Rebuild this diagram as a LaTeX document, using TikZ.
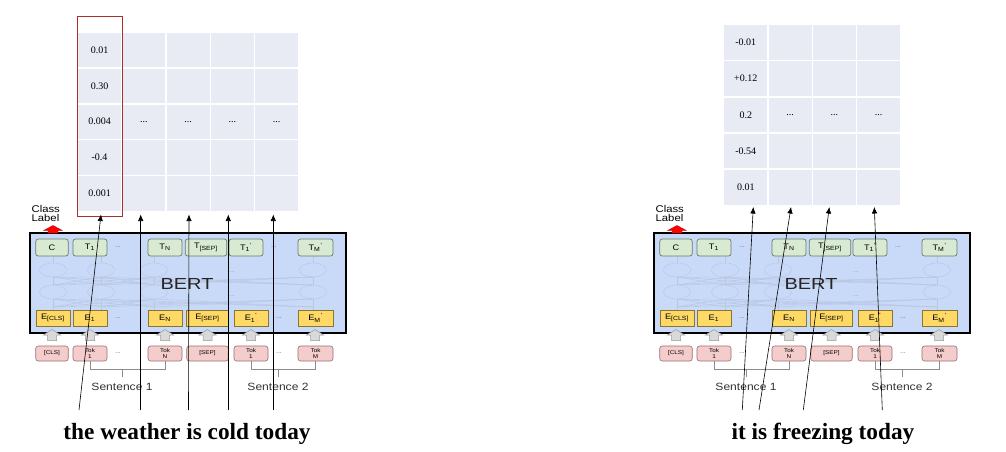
\documentclass[tikz,border=0pt]{standalone}
\usepackage{fontspec}
\usepackage{graphicx}
\usetikzlibrary{arrows.meta}
\newfontfamily\arialf{Liberation Sans}
\newfontfamily\timesf{Liberation Serif}
\definecolor{bertfill}{HTML}{C9DAF8}
\definecolor{tfill}{HTML}{D9EAD3}
\definecolor{tdraw}{HTML}{6B7B66}
\definecolor{efill}{HTML}{FFD966}
\definecolor{edraw}{HTML}{8A7434}
\definecolor{pfill}{HTML}{F4CCCC}
\definecolor{pdraw}{HTML}{9A7070}
\definecolor{garfill}{HTML}{D9D9D9}
\definecolor{gardraw}{HTML}{9A9A9A}
\definecolor{netc}{HTML}{B8C7E2}
\definecolor{cellc}{HTML}{E8EAF4}
\definecolor{redbox}{HTML}{A8322A}
\definecolor{brk}{HTML}{8C8C8C}
\newcommand\sx[1]{\scalebox{1.15}[1]{#1}}
\tikzset{
  tnode/.style={draw=tdraw, fill=tfill, rounded corners=2.5pt, line width=0.7pt, minimum height=17pt, inner sep=0pt, font=\arialf\fontsize{8}{9}\selectfont},
  enode/.style={draw=edraw, fill=efill, line width=0.6pt, minimum height=16pt, inner sep=0pt, font=\arialf\fontsize{8}{9}\selectfont},
  pnode/.style={draw=pdraw, fill=pfill, rounded corners=2.5pt, line width=0.6pt, minimum height=15pt, inner sep=0pt, align=center, font=\arialf\fontsize{5.5}{5.6}\selectfont},
  dotsn/.style={font=\arialf\fontsize{7}{8}\selectfont, text=black!55, inner sep=0pt},
  netl/.style={draw=netc, line width=0.45pt},
  clab/.style={font=\arialf\fontsize{9.8}{10}\selectfont, inner sep=0pt, anchor=base west},
  sent/.style={font=\arialf\fontsize{10.5}{12}\selectfont, text=black!80, inner sep=0pt},
  bertt/.style={font=\arialf\fontsize{16}{16}\selectfont, text=black!85, inner sep=0pt},
  valt/.style={font=\timesf\fontsize{10}{12}\selectfont, inner sep=0pt},
  bigt/.style={font=\timesf\bfseries\fontsize{23.3}{26}\selectfont, inner sep=0pt, anchor=base},
  arr/.style={-{Latex[length=6.5pt,width=5.5pt]}, line width=0.6pt, black},
  brkl/.style={draw=brk, line width=0.6pt},
  garrow/.style={fill=garfill, draw=gardraw, line width=0.5pt}
}
\newcommand\bertblock[2]{%
\begin{scope}[shift={(#2,0)}]
  \draw[fill=bertfill, line width=1.2pt] (30,233) rectangle (346,333);
  % faint inner network
  \foreach \a in {53,101,154,313}{
    \draw[netl] (\a,270) ellipse [x radius=13.5, y radius=7];
    \draw[netl] (\a,292) ellipse [x radius=13.5, y radius=7];
    \draw[netl] (\a,256) -- (\a,263);
    \draw[netl] (\a,299) -- (\a,310);
    \foreach \b in {53,101,154,313}{
      \draw[netl] (\a,277) -- (\b,285);
      \draw[netl] (\a,299) -- (\b,307);
    }
  }
  \node[dotsn, text=netc!80!black] (#1nd1) at (232,272) {...};
  \node[dotsn, text=netc!80!black] (#1nd2) at (232,296) {...};
  \node[bertt] (#1bert) at (187,284) {\scalebox{1.25}[1]{BERT}};
  % output tokens
  \node[tnode, minimum width=32.5pt] (#1c) at (52,247.5) {\sx{C}};
  \node[tnode, minimum width=34pt] (#1t1) at (90,247.5) {\sx{T\textsubscript{1}}};
  \node[dotsn] (#1td1) at (118,247.5) {...};
  \node[tnode, minimum width=34pt] (#1tn) at (165,247.5) {\sx{T\textsubscript{N}}};
  \node[tnode, minimum width=41.5pt] (#1tsep) at (206,247.5) {\sx{T\textsubscript{[SEP]}}};
  \node[tnode, minimum width=34pt] (#1t1p) at (246,247.5) {\sx{T\textsubscript{1}\textsuperscript{'}}};
  \node[dotsn] (#1td2) at (274,247.5) {...};
  \node[tnode, minimum width=35pt] (#1tm) at (315.5,247.5) {\sx{T\textsubscript{M}\textsuperscript{'}}};
  % embeddings
  \node[enode, minimum width=34pt] (#1ecls) at (53,318) {\sx{E\textsubscript{[CLS]}}};
  \node[enode, minimum width=34pt] (#1e1) at (90,318) {\sx{E\textsubscript{1}}};
  \node[dotsn] (#1ed1) at (118,318) {...};
  \node[enode, minimum width=34pt] (#1en) at (165,318) {\sx{E\textsubscript{N}}};
  \node[enode, minimum width=41.5pt] (#1esep) at (207.5,318) {\sx{E\textsubscript{[SEP]}}};
  \node[enode, minimum width=34pt] (#1e1p) at (251,318) {\sx{E\textsubscript{1}\textsuperscript{'}}};
  \node[dotsn] (#1ed2) at (279,318) {...};
  \node[enode, minimum width=35pt] (#1em) at (315.5,318) {\sx{E\textsubscript{M}\textsuperscript{'}}};
  % gray input arrows
  \foreach \c in {52,90,165,207.5,251,315}{
    \filldraw[garrow] (\c,329.5) -- (\c+8.5,335) -- (\c+4.5,335) -- (\c+4.5,340.5) -- (\c-4.5,340.5) -- (\c-4.5,335) -- (\c-8.5,335) -- cycle;
  }
  % input tokens
  \node[pnode, minimum width=32.5pt] (#1kcls) at (52,353.5) {\sx{[CLS]}};
  \node[pnode, minimum width=34pt] (#1k1) at (90,353.5) {\sx{Tok}\\\sx{1}};
  \node[dotsn] (#1kd1) at (118,353.5) {...};
  \node[pnode, minimum width=34pt] (#1kn) at (165,353.5) {\sx{Tok}\\\sx{N}};
  \node[pnode, minimum width=41.5pt] (#1ksep) at (207.5,353.5) {\sx{[SEP]}};
  \node[pnode, minimum width=34pt] (#1k1p) at (251,353.5) {\sx{Tok}\\\sx{1}};
  \node[dotsn] (#1kd2) at (279,353.5) {...};
  \node[pnode, minimum width=35pt] (#1km) at (315.5,353.5) {\sx{Tok}\\\sx{M}};
  % sentence brackets
  \draw[brkl] (#1k1.south) -- ++(0,7.5) -| (#1kn.south);
  \coordinate (#1s1a) at (122,368.5);
  \coordinate (#1s1b) at (122,377);
  \draw[brkl] (#1s1a) -- (#1s1b);
  \node[sent] (#1s1) at (122,387) {\sx{Sentence 1}};
  \draw[brkl] (#1k1p.south) -- ++(0,7.5) -| (#1km.south);
  \coordinate (#1s2a) at (278,368.5);
  \coordinate (#1s2b) at (278,377);
  \draw[brkl] (#1s2a) -- (#1s2b);
  \node[sent] (#1s2) at (278,387) {\sx{Sentence 2}};
  % class label
  \node[clab] (#1cl1) at (31.5,212.3) {\sx{Class}};
  \node[clab] (#1cl2) at (31.5,221.9) {\sx{Label}};
  \filldraw[fill=red, draw=red!80!black, line width=0.4pt] (53,225.5) -- (62,230.3) -- (58,230.3) -- (58,233) -- (48,233) -- (48,230.3) -- (44,230.3) -- cycle;
\end{scope}}
\begin{document}
\begin{tikzpicture}[x=1pt,y=-1pt]
\useasboundingbox (0,0) rectangle (1006,451);
\fill[white] (0,0) rectangle (1006,451);
\bertblock{L}{0}
\bertblock{R}{624}
% left table
\foreach \i in {0,...,4}{
  \foreach \j in {0,...,4}{
    \fill[cellc] (78+44.3*\i, 32.7+35.9*\j) rectangle ++(43,34.4);
  }
}
\node[valt] (lv1) at (99.5,49.9) {0.01};
\node[valt] (lv2) at (99.5,85.8) {0.30};
\node[valt] (lv3) at (99.5,121.7) {0.004};
\node[valt] (lv4) at (99.5,157.6) {-0.4};
\node[valt] (lv5) at (99.5,193.5) {0.001};
\node[valt] (ld1) at (143.8,121.7) {...};
\node[valt] (ld2) at (188.1,121.7) {...};
\node[valt] (ld3) at (232.4,121.7) {...};
\node[valt] (ld4) at (276.7,121.7) {...};
\draw[redbox, line width=1pt] (77.3,16.7) rectangle (122.7,216.5);
% right table
\foreach \i in {0,...,3}{
  \foreach \j in {0,...,4}{
    \fill[cellc] (724.3+44.3*\i, 25+36.25*\j) rectangle ++(43,34.6);
  }
}
\node[valt] (rv1) at (745.8,42.3) {-0.01};
\node[valt] (rv2) at (745.8,78.5) {+0.12};
\node[valt] (rv3) at (745.8,114.8) {0.2};
\node[valt] (rv4) at (745.8,151) {-0.54};
\node[valt] (rv5) at (745.8,187.3) {0.01};
\node[valt] (rd1) at (790.1,114.8) {...};
\node[valt] (rd2) at (834.4,114.8) {...};
\node[valt] (rd3) at (878.7,114.8) {...};
% left arrows
\coordinate (la1s) at (79,410);   \coordinate (la1e) at (101,214.5);
\coordinate (la2s) at (140.7,410);\coordinate (la2e) at (140.7,214.5);
\coordinate (la3s) at (188.5,410);\coordinate (la3e) at (189,214.5);
\coordinate (la4s) at (228.3,410);\coordinate (la4e) at (228.3,214.5);
\coordinate (la5s) at (273.3,410);\coordinate (la5e) at (273.3,214.5);
\foreach \k in {1,...,5}{ \draw[arr] (la\k s) -- (la\k e); }
% right arrows
\coordinate (ra1s) at (742.3,410); \coordinate (ra1e) at (753.3,207);
\coordinate (ra2s) at (759,410);   \coordinate (ra2e) at (791,207);
\coordinate (ra3s) at (803.3,410); \coordinate (ra3e) at (829.3,207);
\coordinate (ra4s) at (882.3,410); \coordinate (ra4e) at (874.3,207);
\foreach \k in {1,...,4}{ \draw[arr] (ra\k s) -- (ra\k e); }
% sentences
\node[bigt] (lsent) at (187,439) {the weather is cold today};
\node[bigt] (rsent) at (823,439) {it is freezing today};
\end{tikzpicture}
\end{document}
